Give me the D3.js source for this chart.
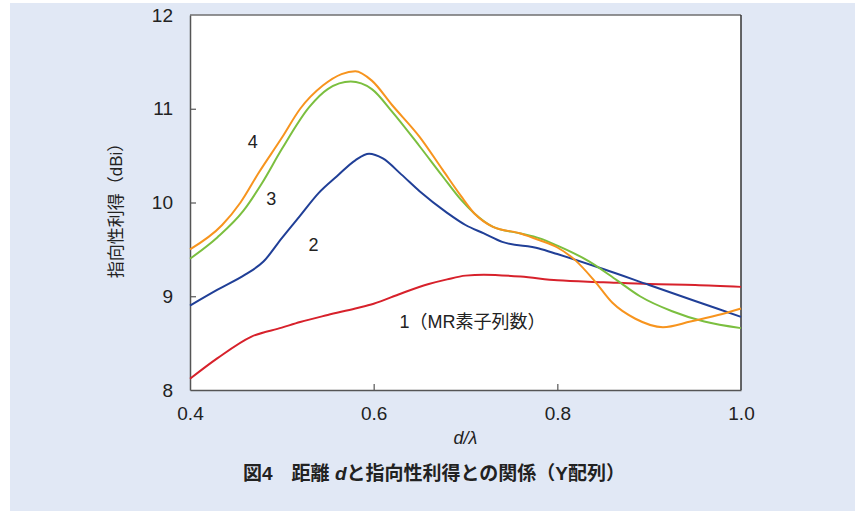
<!DOCTYPE html>
<html lang="ja">
<head>
  <meta charset="UTF-8">
  <title>距離dと指向性利得との関係（Y配列）</title>
  <script src="https://d3js.org/d3.v7.min.js"></script>
  <style>
    * { margin: 0; padding: 0; box-sizing: border-box; }
    body { width: 855px; height: 511px; background: #fff; overflow: hidden; }
    svg { display: block; font-family: "Liberation Sans", "Noto Sans CJK JP", sans-serif; }
  </style>
</head>
<body>
  <div id="chart"></div>

  <script>
    // x = d/λ, y = gain (dBi)
    const xTicks = [0.4, 0.6, 0.8, 1.0];
    const yTicks = [8, 9, 10, 11, 12];

    const d1 = [0.40, 0.43, 0.467, 0.50, 0.52, 0.55, 0.58, 0.60, 0.63, 0.66, 0.68, 0.70, 0.72, 0.76, 0.80, 0.85, 0.90, 0.95, 1.00];
    const g1 = [8.12, 8.34, 8.57, 8.665, 8.725, 8.80, 8.87, 8.92, 9.03, 9.13, 9.18, 9.22, 9.23, 9.21, 9.17, 9.15, 9.13, 9.12, 9.10];

    const d2 = [0.40, 0.43, 0.46, 0.48, 0.50, 0.52, 0.54, 0.56, 0.58, 0.595, 0.61, 0.63, 0.65, 0.68, 0.70, 0.72, 0.74, 0.78, 0.80, 0.85, 0.90, 0.95, 1.00];
    const g2 = [8.90, 9.07, 9.23, 9.37, 9.62, 9.86, 10.10, 10.28, 10.45, 10.52, 10.47, 10.30, 10.12, 9.89, 9.76, 9.67, 9.58, 9.51, 9.45, 9.29, 9.12, 8.95, 8.78];

    const d3v = [0.40, 0.43, 0.458, 0.478, 0.50, 0.53, 0.55, 0.575, 0.598, 0.62, 0.65, 0.675, 0.695, 0.71, 0.73, 0.76, 0.78, 0.80, 0.835, 0.865, 0.89, 0.925, 0.96, 1.00];
    const g3 = [9.40, 9.63, 9.91, 10.20, 10.57, 11.02, 11.21, 11.29, 11.21, 10.97, 10.60, 10.28, 10.03, 9.88, 9.74, 9.67, 9.62, 9.54, 9.37, 9.17, 9.00, 8.84, 8.73, 8.66];

    const d4 = [0.40, 0.435, 0.455, 0.475, 0.50, 0.52, 0.545, 0.565, 0.58, 0.598, 0.62, 0.65, 0.675, 0.695, 0.71, 0.73, 0.76, 0.78, 0.80, 0.82, 0.84, 0.86, 0.885, 0.915, 0.945, 0.975, 1.00];
    const g4 = [9.50, 9.76, 10.00, 10.32, 10.69, 11.00, 11.25, 11.37, 11.40, 11.30, 11.04, 10.70, 10.35, 10.07, 9.88, 9.74, 9.67, 9.60, 9.52, 9.38, 9.17, 8.93, 8.76, 8.67, 8.73, 8.80, 8.87];

    const seriesColors = ["#d7212b", "#203f97", "#7bbf3f", "#f7941e"];

    // curve labels in data coordinates
    const labelText = ["1（MR素子列数）", "2", "3", "4"];
    const labelX = [0.628, 0.529, 0.483, 0.463];
    const labelY = [8.73, 9.55, 10.04, 10.65];

    const series = [
      d1.map((d, i) => [d, g1[i]]),
      d2.map((d, i) => [d, g2[i]]),
      d3v.map((d, i) => [d, g3[i]]),
      d4.map((d, i) => [d, g4[i]])
    ];

    const width = 855, height = 511;
    const margin = {top: 15, right: 114, bottom: 121, left: 190};

    const svg = d3.select("#chart").append("svg")
      .attr("width", width)
      .attr("height", height);

    // light blue panel
    svg.append("rect")
      .attr("x", 10).attr("y", 3)
      .attr("width", 845).attr("height", 508)
      .attr("fill", "#e1e8f5");

    const x = d3.scaleLinear().domain([0.4, 1.0]).range([margin.left, width - margin.right]);
    const y = d3.scaleLinear().domain([8, 12]).range([height - margin.bottom, margin.top]);

    // plot area
    svg.append("rect")
      .attr("x", x(0.4)).attr("y", y(12))
      .attr("width", x(1.0) - x(0.4)).attr("height", y(8) - y(12))
      .attr("fill", "#fff");

    // frame: top and right lines
    svg.append("line")
      .attr("x1", x(0.4)).attr("x2", x(1.0))
      .attr("y1", y(12)).attr("y2", y(12))
      .attr("stroke", "#6f6f6f").attr("stroke-width", 1.5);
    svg.append("line")
      .attr("x1", x(1.0)).attr("x2", x(1.0))
      .attr("y1", y(12)).attr("y2", y(8))
      .attr("stroke", "#333").attr("stroke-width", 1.5);

    // axes with inward ticks
    const xAxis = svg.append("g")
      .attr("transform", `translate(0,${y(8)})`)
      .call(d3.axisBottom(x).tickValues(xTicks).tickFormat(d3.format(".1f"))
        .tickSizeInner(-6).tickSizeOuter(0).tickPadding(17));
    const yAxis = svg.append("g")
      .attr("transform", `translate(${x(0.4)},0)`)
      .call(d3.axisLeft(y).tickValues(yTicks).tickFormat(d3.format("d"))
        .tickSizeInner(-6).tickSizeOuter(0).tickPadding(17));

    [xAxis, yAxis].forEach(a => {
      a.attr("font-size", 19).attr("font-family", null);
      a.select(".domain").attr("stroke", "#555").attr("stroke-width", 1.5);
      a.selectAll(".tick line").attr("stroke", "#555").attr("stroke-width", 1.2);
      a.selectAll(".tick text").attr("fill", "#222");
    });
    // hide ticks that sit on the frame corners
    xAxis.selectAll(".tick").filter(d => d === 0.4 || d === 1.0).select("line").remove();
    yAxis.selectAll(".tick").filter(d => d === 8 || d === 12).select("line").remove();

    // curves
    const line = d3.line()
      .x(d => x(d[0]))
      .y(d => y(d[1]))
      .curve(d3.curveMonotoneX);

    series.forEach((s, i) => {
      svg.append("path")
        .datum(s)
        .attr("fill", "none")
        .attr("stroke", seriesColors[i])
        .attr("stroke-width", 2)
        .attr("d", line);
    });

    // curve labels
    labelText.forEach((t, i) => {
      svg.append("text")
        .attr("x", x(labelX[i]))
        .attr("y", y(labelY[i]))
        .attr("dy", "0.35em")
        .attr("font-size", 18)
        .attr("fill", "#222")
        .text(t);
    });

    // axis titles
    svg.append("text")
      .attr("transform", `translate(122,${y(10) + 4}) rotate(-90)`)
      .attr("text-anchor", "middle")
      .attr("font-size", 17)
      .attr("fill", "#222")
      .text("指向性利得（dBi）");

    svg.append("text")
      .attr("x", x(0.7))
      .attr("y", 444)
      .attr("text-anchor", "middle")
      .attr("font-size", 18)
      .attr("font-style", "italic")
      .attr("fill", "#222")
      .text("d/λ");

    // caption
    const cap = svg.append("text")
      .attr("x", 434)
      .attr("y", 480)
      .attr("text-anchor", "middle")
      .attr("font-size", 19)
      .attr("font-weight", "bold")
      .attr("fill", "#222");
    cap.append("tspan").text("図4　距離 ");
    cap.append("tspan").attr("font-style", "italic").text("d");
    cap.append("tspan").text("と指向性利得との関係（Y配列）");
  </script>
</body>
</html>
